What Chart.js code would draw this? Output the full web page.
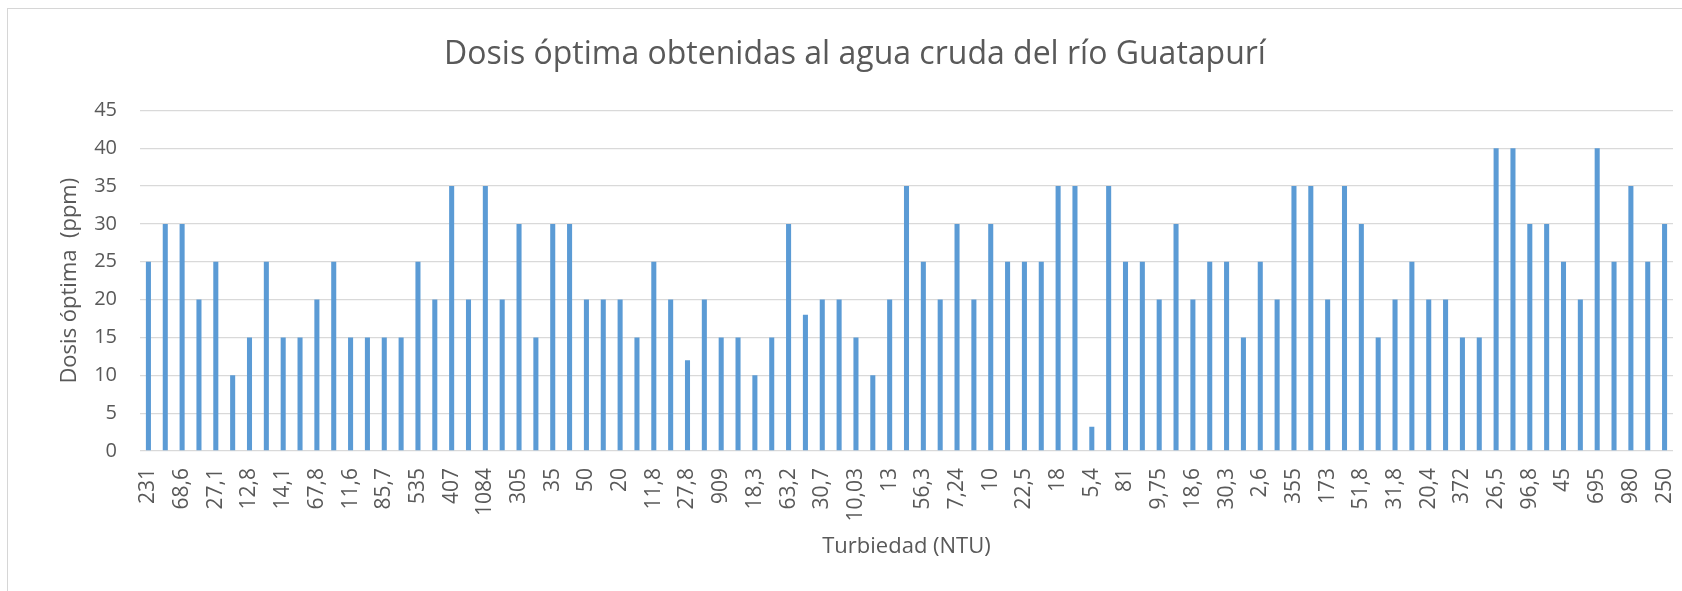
<!DOCTYPE html>
<html>
<head>
<meta charset="utf-8">
<title>Dosis óptima</title>
<script src="https://cdn.jsdelivr.net/npm/chart.js@4.4.1/dist/chart.umd.min.js"></script>
<style>
    html, body { margin: 0; padding: 0; background: #fff; overflow: hidden; }
    #frame {
        position: absolute; left: 7px; top: 8px; width: 1800px; height: 700px;
        border-left: 1px solid #d6d6d6; border-top: 1px solid #d6d6d6;
    }
    #wrap { position: absolute; left: 0; top: 0; width: 1682px; height: 591px; }
</style>
</head>
<body>
<div id="frame"></div>
<div id="wrap"><canvas id="dosisChart"></canvas></div>
<script>
    'use strict';

    // Turbidity labels (only every other one is printed on the axis, the rest are unknown)
    var turbiedad = [
        '231', '', '68,6', '', '27,1', '', '12,8', '', '14,1', '', '67,8', '', '11,6', '', '85,7', '',
        '535', '', '407', '', '1084', '', '305', '', '35', '', '50', '', '20', '', '11,8', '',
        '27,8', '', '909', '', '18,3', '', '63,2', '', '30,7', '', '10,03', '', '13', '', '56,3', '',
        '7,24', '', '10', '', '22,5', '', '18', '', '5,4', '', '81', '', '9,75', '', '18,6', '',
        '30,3', '', '2,6', '', '355', '', '173', '', '51,8', '', '31,8', '', '20,4', '', '372', '',
        '26,5', '', '96,8', '', '45', '', '695', '', '980', '', '250'
    ];

    // Optimal dose (ppm)
    var dosis = [
        25, 30, 30, 20, 25, 10, 15, 25, 15, 15, 20, 25, 15, 15, 15, 15,
        25, 20, 35, 20, 35, 20, 30, 15, 30, 30, 20, 20, 20, 15, 25, 20,
        12, 20, 15, 15, 10, 15, 30, 18, 20, 20, 15, 10, 20, 35, 25, 20,
        30, 20, 30, 25, 25, 25, 35, 35, 3.2, 35, 25, 25, 20, 30, 20, 25,
        25, 15, 25, 20, 35, 35, 20, 35, 30, 15, 20, 25, 20, 20, 15, 15,
        40, 40, 30, 30, 25, 20, 40, 25, 35, 25, 30
    ];

    var yTicks = [0, 5, 10, 15, 20, 25, 30, 35, 40, 45];

    var textColor = '#595959';
    var gridColor = '#d9d9d9';

    var ctx = document.getElementById('dosisChart').getContext('2d');
    var dosisChart = new Chart(ctx, {
        type: 'bar',
        data: {
            labels: turbiedad,
            datasets: [{
                label: 'Dosis óptima',
                data: dosis,
                backgroundColor: '#5b9bd5',
                borderWidth: 0,
                barPercentage: 0.3,
                categoryPercentage: 1
            }]
        },
        options: {
            responsive: true,
            maintainAspectRatio: false,
            animation: false,
            layout: {
                // left/right difference moves the title centre to the right like the original
                padding: { left: 37, right: 9, top: 0, bottom: 0 }
            },
            plugins: {
                legend: { display: false },
                tooltip: { enabled: false },
                title: {
                    display: true,
                    text: 'Dosis óptima obtenidas al agua cruda del río Guatapurí',
                    color: textColor,
                    font: { family: 'Open Sans', size: 32, weight: 'normal' },
                    padding: { top: 36, bottom: 36 }
                }
            },
            scales: {
                x: {
                    grid: { display: false, drawTicks: false },
                    border: { display: false },
                    ticks: {
                        autoSkip: false,
                        maxRotation: 90,
                        minRotation: 90,
                        padding: 17,
                        color: textColor,
                        font: { family: 'Open Sans', size: 21 }
                    },
                    title: {
                        display: true,
                        text: 'Turbiedad (NTU)',
                        color: textColor,
                        font: { family: 'Open Sans', size: 22 },
                        padding: { top: 0, bottom: 31 }
                    },
                    afterFit: function (scale) {
                        scale.height = 140;
                        scale.paddingLeft = 0;
                        scale.paddingRight = 0;
                    }
                },
                y: {
                    min: 0,
                    max: 45,
                    afterBuildTicks: function (scale) {
                        scale.ticks = yTicks.map(function (v) { return { value: v }; });
                    },
                    grid: { color: gridColor, lineWidth: 1.3, drawTicks: false },
                    border: { display: false },
                    ticks: {
                        padding: 23,
                        color: textColor,
                        font: { family: 'Open Sans', size: 20 }
                    },
                    title: {
                        display: true,
                        text: 'Dosis óptima  (ppm)',
                        color: textColor,
                        font: { family: 'Open Sans', size: 22 },
                        padding: { top: 20, bottom: 0 }
                    },
                    afterFit: function (scale) { scale.width = 103; }
                }
            }
        }
    });
</script>
</body>
</html>
